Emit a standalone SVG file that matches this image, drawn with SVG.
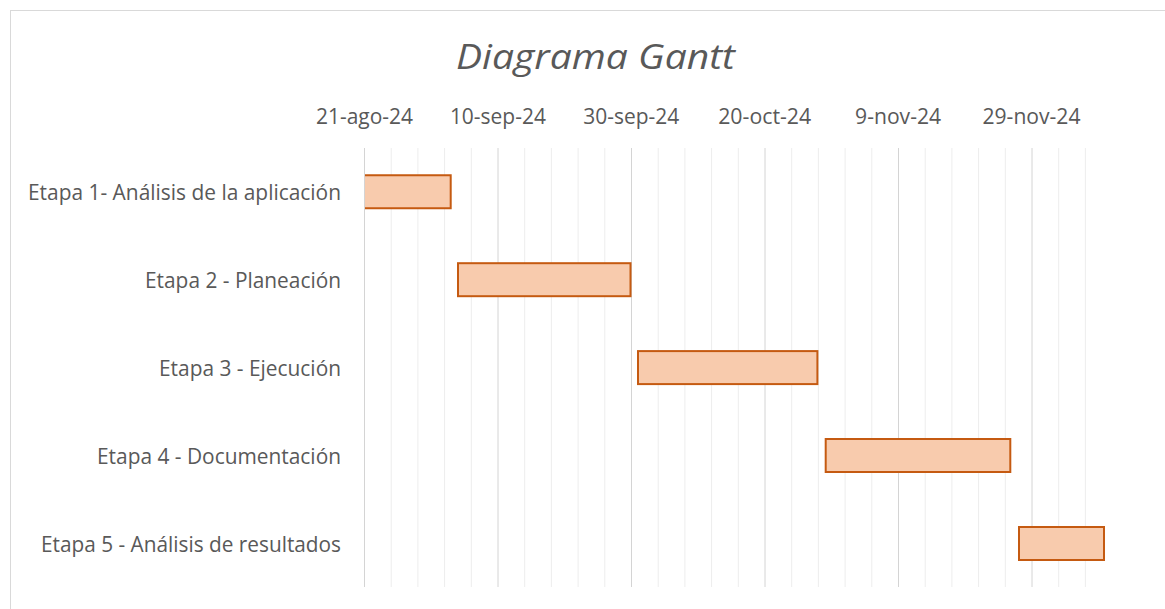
<svg xmlns="http://www.w3.org/2000/svg" width="1165" height="609" viewBox="0 0 1165 609">
<style>
.txt{font-family:"Open Sans","Liberation Sans",sans-serif;fill:#595959;}
.title{font-size:34px;font-style:italic;}
.ax{font-size:22px;text-anchor:middle;}
.lbl{font-size:22px;text-anchor:end;}
.minor{stroke:#ededed;stroke-width:1;}
.major{stroke:#d4d4d4;stroke-width:1;}
.bar{fill:#F8CBAD;stroke:#C55A11;stroke-width:2;}
.barfill{fill:#F8CBAD;}
.barline{fill:none;stroke:#C55A11;stroke-width:2;}
</style>
<rect x="0" y="0" width="1165" height="609" fill="#ffffff"/>
<rect x="10.5" y="10.5" width="1170" height="620" fill="#ffffff" stroke="#d9d9d9" stroke-width="1"/>
<text class="txt title" x="595.5" y="69" text-anchor="middle" textLength="279" lengthAdjust="spacingAndGlyphs">Diagrama Gantt</text>
<g id="axis-labels">
<text class="txt ax" x="364.5" y="124" textLength="97" lengthAdjust="spacingAndGlyphs">21-ago-24</text>
<text class="txt ax" x="497.9" y="124" textLength="96" lengthAdjust="spacingAndGlyphs">10-sep-24</text>
<text class="txt ax" x="631.3" y="124" textLength="96" lengthAdjust="spacingAndGlyphs">30-sep-24</text>
<text class="txt ax" x="764.7" y="124" textLength="93" lengthAdjust="spacingAndGlyphs">20-oct-24</text>
<text class="txt ax" x="898.1" y="124" textLength="86" lengthAdjust="spacingAndGlyphs">9-nov-24</text>
<text class="txt ax" x="1031.5" y="124" textLength="98" lengthAdjust="spacingAndGlyphs">29-nov-24</text>
</g>
<g id="grid">
<line class="major" x1="364.5" y1="148" x2="364.5" y2="587"/>
<line class="minor" x1="391.2" y1="148" x2="391.2" y2="587"/>
<line class="minor" x1="417.9" y1="148" x2="417.9" y2="587"/>
<line class="minor" x1="444.6" y1="148" x2="444.6" y2="587"/>
<line class="minor" x1="471.3" y1="148" x2="471.3" y2="587"/>
<line class="major" x1="498" y1="148" x2="498" y2="587"/>
<line class="minor" x1="524.7" y1="148" x2="524.7" y2="587"/>
<line class="minor" x1="551.4" y1="148" x2="551.4" y2="587"/>
<line class="minor" x1="578.1" y1="148" x2="578.1" y2="587"/>
<line class="minor" x1="604.8" y1="148" x2="604.8" y2="587"/>
<line class="major" x1="631.5" y1="148" x2="631.5" y2="587"/>
<line class="minor" x1="658.2" y1="148" x2="658.2" y2="587"/>
<line class="minor" x1="684.9" y1="148" x2="684.9" y2="587"/>
<line class="minor" x1="711.6" y1="148" x2="711.6" y2="587"/>
<line class="minor" x1="738.3" y1="148" x2="738.3" y2="587"/>
<line class="major" x1="765" y1="148" x2="765" y2="587"/>
<line class="minor" x1="791.7" y1="148" x2="791.7" y2="587"/>
<line class="minor" x1="818.4" y1="148" x2="818.4" y2="587"/>
<line class="minor" x1="845.1" y1="148" x2="845.1" y2="587"/>
<line class="minor" x1="871.8" y1="148" x2="871.8" y2="587"/>
<line class="major" x1="898.5" y1="148" x2="898.5" y2="587"/>
<line class="minor" x1="925.2" y1="148" x2="925.2" y2="587"/>
<line class="minor" x1="951.9" y1="148" x2="951.9" y2="587"/>
<line class="minor" x1="978.6" y1="148" x2="978.6" y2="587"/>
<line class="minor" x1="1005.3" y1="148" x2="1005.3" y2="587"/>
<line class="major" x1="1032" y1="148" x2="1032" y2="587"/>
<line class="minor" x1="1058.7" y1="148" x2="1058.7" y2="587"/>
<line class="minor" x1="1085.4" y1="148" x2="1085.4" y2="587"/>
</g>
<g id="connectors"></g>
<g id="etapa1">
<text class="txt lbl" x="341" y="200" textLength="313" lengthAdjust="spacingAndGlyphs">Etapa 1- Análisis de la aplicación</text>
<rect class="barfill" x="365" y="175.3" width="85.7" height="33"/>
<path class="barline" d="M365,175.3 H450.7 V208.3 H365"/>
</g>
<g id="etapa2">
<text class="txt lbl" x="341" y="288" textLength="196" lengthAdjust="spacingAndGlyphs">Etapa 2 - Planeación</text>
<rect class="bar" x="458" y="263.2" width="172.5" height="33"/>
</g>
<g id="etapa3">
<text class="txt lbl" x="341" y="376" textLength="182" lengthAdjust="spacingAndGlyphs">Etapa 3 - Ejecución</text>
<rect class="bar" x="638" y="351.1" width="179.4" height="33"/>
</g>
<g id="etapa4">
<text class="txt lbl" x="341" y="464" textLength="244" lengthAdjust="spacingAndGlyphs">Etapa 4 - Documentación</text>
<rect class="bar" x="825.7" y="439" width="184.6" height="33"/>
</g>
<g id="etapa5">
<text class="txt lbl" x="341" y="551.5" textLength="300" lengthAdjust="spacingAndGlyphs">Etapa 5 - Análisis de resultados</text>
<rect class="bar" x="1019" y="527" width="85" height="33"/>
</g>
</svg>
